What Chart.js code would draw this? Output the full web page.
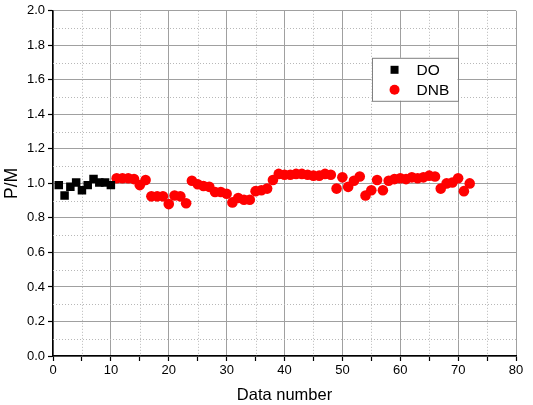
<!DOCTYPE html>
<html>
<head>
<meta charset="utf-8">
<script src="https://cdn.jsdelivr.net/npm/chart.js@4"></script>
<style>
  html, body { margin: 0; padding: 0; background: #fff; }
</style>
</head>
<body>
<canvas id="chart" width="533" height="405"></canvas>
<script>
// Data number for each series
const doNumbers = [1, 2, 3, 4, 5, 6, 7, 8, 9, 10];
const doValues = [0.99, 0.93, 0.98, 1.005, 0.96, 0.99, 1.025, 1.005, 1.005, 0.99];

const dnbNumbers = [];
for (let n = 11; n <= 72; n++) dnbNumbers.push(n);
const dnbValues = [
  1.03, 1.03, 1.03, 1.025, 0.99, 1.02, 0.925, 0.925, 0.925, 0.88,
  0.93, 0.925, 0.885, 1.015, 0.995, 0.985, 0.98, 0.95, 0.95, 0.94,
  0.89, 0.915, 0.905, 0.905, 0.955, 0.96, 0.97, 1.02, 1.055, 1.05,
  1.05, 1.055, 1.055, 1.05, 1.045, 1.045, 1.055, 1.05, 0.97, 1.035,
  0.98, 1.015, 1.04, 0.93, 0.96, 1.02, 0.96, 1.015, 1.025, 1.03,
  1.025, 1.035, 1.03, 1.035, 1.045, 1.04, 0.97, 1.0, 1.005, 1.03,
  0.955, 1.0
];

const seriesNames = ['DO', 'DNB'];
const xTickLabels = [0, 10, 20, 30, 40, 50, 60, 70, 80];
const yTickLabels = ['0.0', '0.2', '0.4', '0.6', '0.8', '1.0', '1.2', '1.4', '1.6', '1.8', '2.0'];

const toPoints = (xs, ys) => xs.map((x, i) => ({ x: x, y: ys[i] }));
const FONT = '"Liberation Sans", Arial, sans-serif';

// dotted minor grid (5 on x, 0.1 on y)
const minorGrid = {
  id: 'minorGrid',
  beforeDatasetsDraw(chart) {
    const { ctx, chartArea: a, scales: { x, y } } = chart;
    ctx.save();
    ctx.strokeStyle = '#b8b8b8';
    ctx.lineWidth = 1;
    ctx.setLineDash([1, 2]);
    for (let v = 5; v < 80; v += 10) {
      const px = Math.round(x.getPixelForValue(v)) + 0.5;
      ctx.beginPath(); ctx.moveTo(px, a.top); ctx.lineTo(px, a.bottom); ctx.stroke();
    }
    for (let k = 1; k < 20; k += 2) {
      const py = Math.round(y.getPixelForValue(k / 10)) + 0.5;
      ctx.beginPath(); ctx.moveTo(a.left, py); ctx.lineTo(a.right, py); ctx.stroke();
    }
    ctx.restore();
  }
};

// legend box inside the plot
const boxLegend = {
  id: 'boxLegend',
  afterDraw(chart) {
    const { ctx, chartArea: a } = chart;
    const left = a.left + (a.right - a.left) * 0.688;
    const top = a.top + 47;
    const w = 86, h = 43;
    ctx.save();
    ctx.fillStyle = '#fff';
    ctx.fillRect(left, top, w, h);
    ctx.strokeStyle = '#808080';
    ctx.lineWidth = 1;
    ctx.strokeRect(Math.round(left) + 0.5, top + 0.5, w, h);
    ctx.font = '15.5px ' + FONT;
    ctx.textBaseline = 'middle';
    chart.data.datasets.forEach((ds, i) => {
      const cy = top + 12 + i * 20;
      ctx.fillStyle = ds.backgroundColor;
      if (ds.pointStyle === 'rect') {
        ctx.fillRect(left + 19, cy - 4, 8, 8);
      } else {
        ctx.beginPath(); ctx.arc(left + 23, cy, 5, 0, Math.PI * 2); ctx.fill();
      }
      ctx.fillStyle = '#000';
      ctx.fillText(ds.label, left + 45, cy + 1);
    });
    ctx.restore();
  }
};

const ctx = document.getElementById('chart').getContext('2d');
new Chart(ctx, {
  type: 'scatter',
  data: {
    datasets: [{
      label: seriesNames[0],
      data: toPoints(doNumbers, doValues),
      pointStyle: 'rect',
      pointRadius: 6,
      backgroundColor: '#000000',
      borderColor: '#000000',
      borderWidth: 0
    }, {
      label: seriesNames[1],
      data: toPoints(dnbNumbers, dnbValues),
      pointStyle: 'circle',
      pointRadius: 5.3,
      backgroundColor: '#ff0000',
      borderColor: '#ff0000',
      borderWidth: 0
    }]
  },
  options: {
    responsive: false,
    devicePixelRatio: 1,
    animation: false,
    layout: { padding: { top: 6, right: 17, left: 0, bottom: 0 } },
    plugins: {
      legend: { display: false },
      tooltip: { enabled: false }
    },
    scales: {
      x: {
        type: 'linear',
        min: 0,
        max: 80,
        afterFit: s => { s.height = 49; },
        ticks: {
          stepSize: 5,
          padding: 2,
          color: '#000',
          font: { family: FONT, size: 13 },
          maxRotation: 0,
          callback: v => (v % 10 === 0 && xTickLabels.includes(v)) ? String(v) : ''
        },
        grid: {
          color: c => (c.tick && c.tick.value % 10 === 0) ? '#a0a0a0' : 'rgba(0,0,0,0)',
          lineWidth: 1,
          tickColor: '#000',
          tickLength: 5,
          tickWidth: 1.2
        },
        border: { color: '#000', width: 1.5 },
        title: {
          display: true,
          text: 'Data number',
          color: '#000',
          font: { family: FONT, size: 16.5 },
          padding: { top: 0, bottom: 0 }
        }
      },
      y: {
        min: 0,
        max: 2,
        afterFit: s => { s.width = 53; },
        ticks: {
          stepSize: 0.1,
          padding: 3,
          color: '#000',
          font: { family: FONT, size: 13 },
          callback: v => {
            const k = Math.round(v * 10);
            return k % 2 === 0 ? yTickLabels[k / 2] : '';
          }
        },
        grid: {
          color: c => (c.tick && Math.round(c.tick.value * 10) % 2 === 0) ? '#a0a0a0' : 'rgba(0,0,0,0)',
          lineWidth: 1,
          tickColor: '#000',
          tickLength: 5,
          tickWidth: 1.2
        },
        border: { color: '#000', width: 1.5 },
        title: {
          display: true,
          text: 'P/M',
          color: '#000',
          font: { family: FONT, size: 17.5 },
          padding: { top: 2, bottom: 2 }
        }
      }
    }
  },
  plugins: [minorGrid, boxLegend]
});
</script>
</body>
</html>
